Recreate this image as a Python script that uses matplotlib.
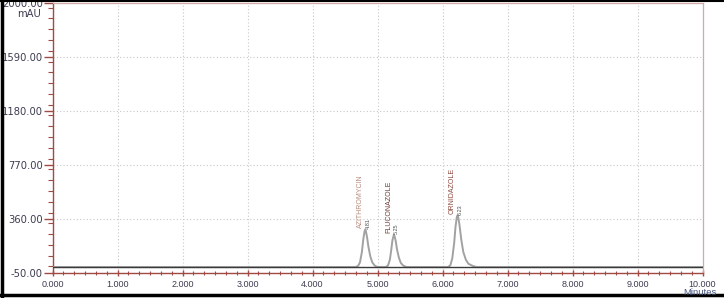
import matplotlib
matplotlib.use("Agg")
import matplotlib.pyplot as plt
from matplotlib.lines import Line2D
from matplotlib.ticker import MultipleLocator

# chromatogram trace (minutes, mAU)
trace_min = [0.00, 4.66, 4.70, 4.73, 4.76, 4.78, 4.80, 4.81, 4.82, 4.84, 4.86, 4.89, 4.92, 4.96, 5.00,
             5.12, 5.16, 5.19, 5.21, 5.23, 5.25, 5.26, 5.28, 5.30, 5.33, 5.36, 5.40, 5.45,
             6.08, 6.12, 6.15, 6.18, 6.20, 6.22, 6.23, 6.24, 6.26, 6.29, 6.32, 6.36, 6.40, 6.46, 6.52,
             10.00]
trace_mau = [-5, -5, 3, 30, 110, 200, 265, 280, 272, 220, 150, 75, 30, 5, -5,
             -5, 5, 50, 120, 200, 238, 235, 195, 130, 65, 25, 5, -5,
             -5, 8, 60, 180, 300, 375, 387, 380, 320, 200, 110, 50, 20, 5, -5,
             -5]
baseline_mau = -5

peak_names = ["AZITHROMYCIN", "FLUCONAZOLE", "ORNIDAZOLE"]
peak_rt = [4.81, 5.25, 6.23]
peak_height = [280, 238, 387]
peak_colors = ["#b88c7e", "#6e3b33", "#8c4a3e"]

y_ticks = [-50, 360, 770, 1180, 1590, 2000]
x_ticks = [0, 1, 2, 3, 4, 5, 6, 7, 8, 9, 10]

axis_red = "#a04a44"
label_col = "#3d3d52"

W, H = 724, 298
fig = plt.figure(figsize=(W / 100, H / 100), dpi=100)
ax = fig.add_axes([52.5 / W, 1 - 273 / H, 650 / W, (273 - 3.4) / H])

ax.plot(trace_min, trace_mau, color="#a2a2a2", linewidth=1.4, zorder=3)
ax.axhline(baseline_mau, color="#3a3a3a", linewidth=1.0, zorder=4)

for name, rt, h, col in zip(peak_names, peak_rt, peak_height, peak_colors):
    ax.annotate(name, xy=(rt, h), xytext=(-5, 2), textcoords="offset pixels",
                rotation=90, ha="center", va="bottom", fontsize=5,
                color=col, family="Liberation Sans")
    ax.annotate(f"{rt:.2f}", xy=(rt, h), xytext=(3, 1), textcoords="offset pixels",
                rotation=90, ha="center", va="bottom", fontsize=4,
                color="#505050", family="Liberation Sans")

ax.set_xlim(0, 10)
ax.set_ylim(-50, 2000)
ax.set_xticks(x_ticks, labels=[f"{v:.3f}" for v in x_ticks],
              fontsize=6.5, family="Liberation Sans", color=label_col)
ax.set_yticks(y_ticks, labels=[f"{v:.2f}" for v in y_ticks],
              fontsize=7.2, family="DejaVu Sans", color=label_col)
ax.xaxis.set_minor_locator(MultipleLocator(1 / 6))
ax.yaxis.set_minor_locator(MultipleLocator(82))

ax.tick_params(axis="y", which="major", direction="out", length=6.5, width=1, color=axis_red, pad=0.5)
ax.tick_params(axis="y", which="minor", direction="out", length=3.5, width=0.8, color=axis_red)
ax.tick_params(axis="x", which="major", direction="inout", length=4.5, width=1, color=axis_red, pad=2.5)
ax.tick_params(axis="x", which="minor", direction="inout", length=2.5, width=0.8, color=axis_red)

ax.grid(True, which="major", linestyle=(0, (1, 2)), color="#c8c8c8", linewidth=0.8)
ax.set_axisbelow(True)

for side in ["left", "bottom"]:
    ax.spines[side].set_color(axis_red)
    ax.spines[side].set_linewidth(1.0)
for side in ["top", "right"]:
    ax.spines[side].set_color("#d2aaaa")
    ax.spines[side].set_linewidth(0.9)

fig.text(29 / W, 1 - 14 / H, "mAU", ha="center", va="center", fontsize=7.2,
         family="DejaVu Sans", color=label_col)
fig.text(683 / W, 1 - 292.5 / H, "Minutes", ha="left", va="center", fontsize=6.8,
         family="Liberation Sans", color="#4a5880")

# black frame of the screenshot
fig.add_artist(Line2D([1.5 / W, 1.5 / W], [0, 1], transform=fig.transFigure, color="black", linewidth=2.5))
fig.add_artist(Line2D([0, 1], [1 - 0.8 / H, 1 - 0.8 / H], transform=fig.transFigure, color="black", linewidth=1.5))
fig.add_artist(Line2D([0, 1], [3.5 / H, 3.5 / H], transform=fig.transFigure, color="black", linewidth=2.5))

fig.savefig("out.png", dpi=100)
